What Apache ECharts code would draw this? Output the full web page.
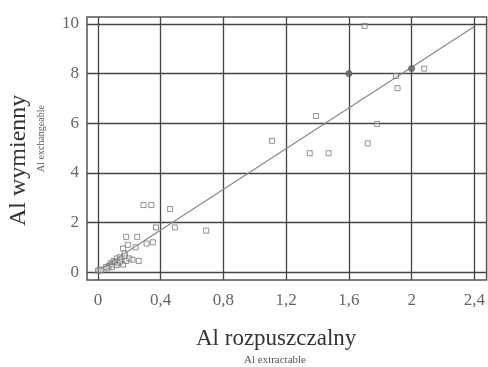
<!DOCTYPE html>
<html>
<head>
<meta charset="utf-8">
<script src="https://cdn.jsdelivr.net/npm/echarts@6/dist/echarts.min.js"></script>
<style>
  html, body { margin: 0; padding: 0; background: #fff; }
  #chart { width: 488px; height: 367px; }
</style>
</head>
<body>
<div id="chart"></div>
<script>
// dane
var xTicks = [0, 0.4, 0.8, 1.2, 1.6, 2, 2.4];
var yTicks = [0, 2, 4, 6, 8, 10];

var alExtr = [0.00, 0.01, 0.02, 0.05, 0.07, 0.08, 0.09, 0.10, 0.11, 0.12, 0.13, 0.14, 0.15, 0.16, 0.17, 0.18, 0.20, 0.22, 0.26,
              0.06, 0.09, 0.12, 0.14, 0.17,
              0.16, 0.19, 0.24, 0.18, 0.25, 0.31, 0.35, 0.29, 0.34, 0.46, 0.37, 0.49, 0.69,
              1.11, 1.35, 1.47, 1.39, 1.72, 1.78, 1.91, 1.90, 2.08, 1.70];
var alExch = [0.05, 0.10, 0.08, 0.20, 0.25, 0.35, 0.30, 0.45, 0.40, 0.55, 0.35, 0.60, 0.50, 0.30, 0.65, 0.45, 0.55, 0.50, 0.45,
              0.15, 0.20, 0.28, 0.42, 0.75,
              0.95, 1.10, 1.00, 1.42, 1.42, 1.15, 1.20, 2.70, 2.70, 2.54, 1.80, 1.80, 1.67,
              5.29, 4.79, 4.79, 6.29, 5.19, 5.97, 7.41, 7.90, 8.20, 9.92];
// punkty nachodzace na siebie (ciemniejsze)
var darkX = [1.60, 2.00];
var darkY = [8.00, 8.20];
// linia regresji
var lineX = [0, 2.4];
var lineY = [0.05, 9.9];

function pairs(xs, ys) {
    var out = [];
    for (var i = 0; i < xs.length; i++) {
        out.push([xs[i], ys[i]]);
    }
    return out;
}

var serif = '"Liberation Serif", "DejaVu Serif", serif';
var myChart = echarts.init(document.getElementById('chart'));
var option = {
    backgroundColor: '#ffffff',
    animation: false,
    grid: {
        left: 87,
        right: 1,
        top: 17,
        bottom: 87,
        show: true,
        borderColor: '#555',
        borderWidth: 1.5,
        containLabel: false
    },
    xAxis: {
        type: 'value',
        min: -0.07,
        max: 2.478,
        axisLine: { show: false },
        axisTick: { show: false, customValues: xTicks },
        axisLabel: {
            customValues: xTicks,
            margin: 12,
            fontFamily: serif,
            fontSize: 17,
            color: '#666',
            formatter: function (v) { return String(v).replace('.', ','); }
        },
        splitLine: { show: true, lineStyle: { color: '#444', width: 1.3 } }
    },
    yAxis: {
        type: 'value',
        min: -0.32,
        max: 10.28,
        axisLine: { show: false },
        axisTick: { show: false, customValues: yTicks },
        axisLabel: {
            customValues: yTicks,
            margin: 8,
            fontFamily: serif,
            fontSize: 17,
            color: '#666'
        },
        splitLine: { show: true, lineStyle: { color: '#444', width: 1.3 } }
    },
    graphic: [
        { type: 'text', left: 196, top: 327, style: { text: 'Al rozpuszczalny', font: '23px ' + serif, fill: '#333' } },
        { type: 'text', left: 244, top: 355, style: { text: 'Al extractable', font: '11px ' + serif, fill: '#555' } },
        { type: 'text', rotation: Math.PI / 2, x: 7, y: 226,
          style: { text: 'Al wymienny', font: '24px ' + serif, fill: '#333' } },
        { type: 'text', rotation: Math.PI / 2, x: 36, y: 172,
          style: { text: 'Al exchangeable', font: '10px ' + serif, fill: '#555' } }
    ],
    series: [
        {
            type: 'line',
            data: pairs(lineX, lineY),
            symbol: 'none',
            lineStyle: { color: '#888', width: 1.2 },
            z: 2
        },
        {
            type: 'scatter',
            data: pairs(alExtr, alExch),
            symbol: 'rect',
            symbolSize: 5,
            itemStyle: { color: 'rgba(255,255,255,0.3)', borderColor: '#777', borderWidth: 1 },
            z: 3
        },
        {
            type: 'scatter',
            data: pairs(darkX, darkY),
            symbol: 'circle',
            symbolSize: 6,
            itemStyle: { color: '#666', borderColor: '#555', borderWidth: 1 },
            z: 3
        }
    ]
};
myChart.setOption(option);
</script>
</body>
</html>
